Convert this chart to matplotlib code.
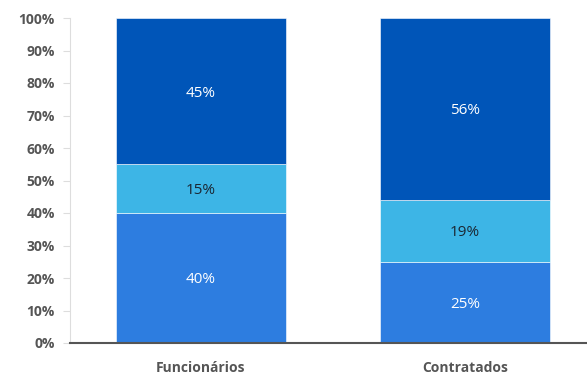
import matplotlib.pyplot as plt
import numpy as np

categorias = ["Funcionários", "Contratados"]
base = [40, 25]
meio = [15, 19]
topo = [45, 56]
cores = ["#2D7DE0", "#3DB5E6", "#0055B8"]

plt.rcParams['font.family'] = ['Open Sans', 'DejaVu Sans']

fig = plt.figure(figsize=(5.87, 3.74), dpi=100)
ax = fig.add_axes([70 / 587, 31 / 374, 517 / 587, 325 / 374])

x = np.arange(len(categorias))
largura = 0.644
fundo = np.zeros(len(categorias))
for serie, cor in zip([base, meio, topo], cores):
    vals = np.array(serie)
    ax.bar(x, vals, largura, bottom=fundo, color=cor, edgecolor="white", linewidth=0.4)
    for xi, b, v in zip(x, fundo, vals):
        txtcor = "#1b2733" if cor == cores[1] else "white"
        ax.text(xi, b + v / 2 - 0.6, f"{v}%", ha="center", va="center", color=txtcor,
                fontsize=11)
    fundo += vals

ax.set_xlim(-0.496, 1.462)
ax.set_ylim(0, 100)
ax.set_yticks(range(0, 101, 10))
ax.set_yticklabels([f"{t}%" for t in range(0, 101, 10)])
ax.set_xticks(x)
ax.set_xticklabels(categorias)

for lbl in ax.get_yticklabels() + ax.get_xticklabels():
    lbl.set_fontweight("bold")
    lbl.set_color("#555555")
    lbl.set_fontsize(10)

ax.spines["top"].set_visible(False)
ax.spines["right"].set_visible(False)
ax.spines["left"].set_color("#dddddd")
ax.spines["bottom"].set_color("#555555")
ax.spines["bottom"].set_linewidth(1.5)
ax.tick_params(axis="y", length=5, color="#dddddd", pad=6)
ax.tick_params(axis="x", length=0, pad=13)

plt.savefig("out.png", dpi=100)
